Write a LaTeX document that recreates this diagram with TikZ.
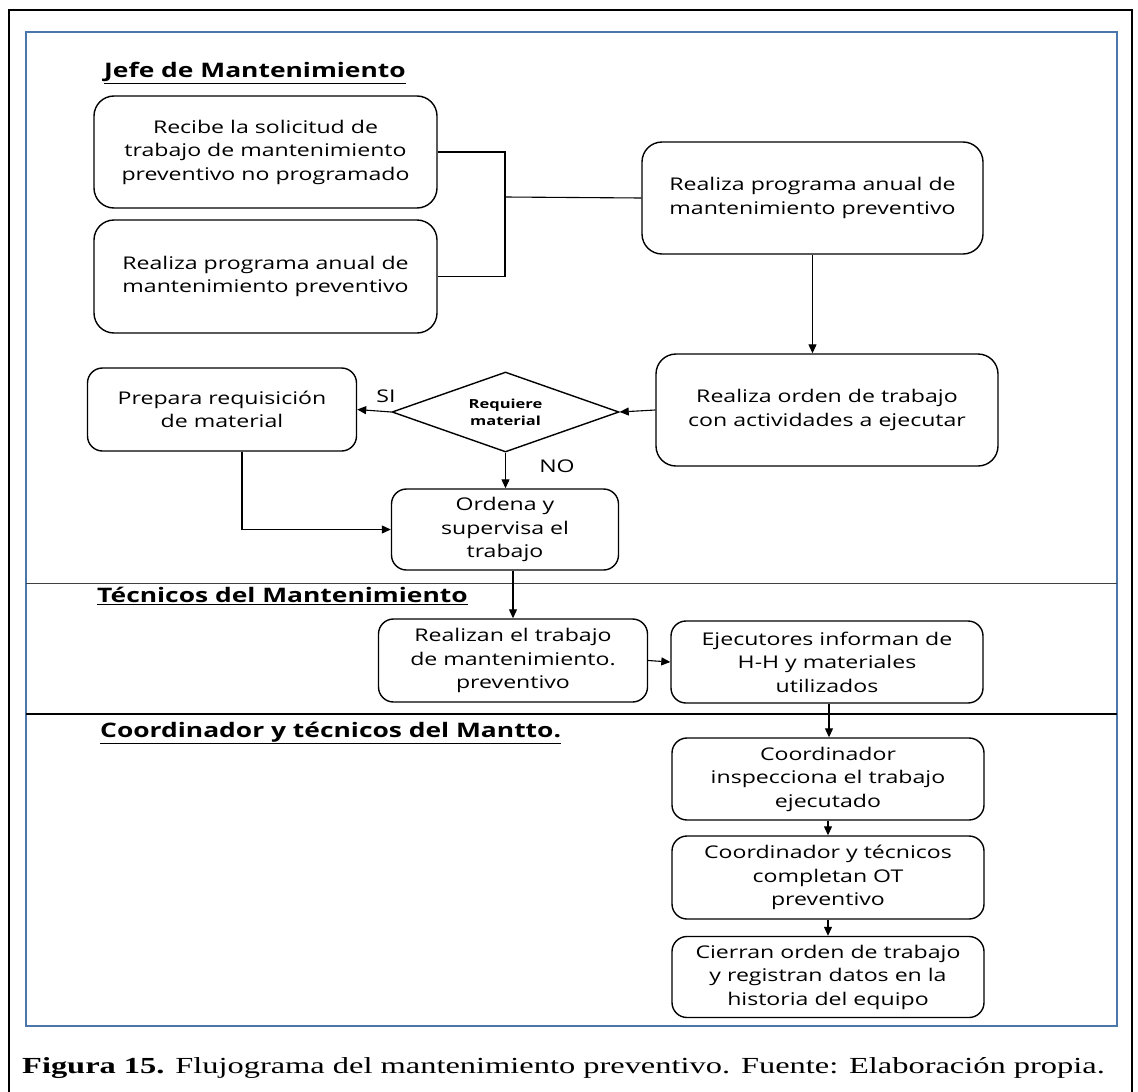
\documentclass[tikz,border=0pt]{standalone}
\usepackage{fontspec}
\setmainfont{Open Sans}[FakeStretch=1.32]
\newfontfamily\capfont{Liberation Serif}[FakeStretch=1.41]
\usetikzlibrary{shapes.geometric,arrows.meta}
\definecolor{frameblue}{RGB}{74,118,172}
\begin{document}
\begin{tikzpicture}[x=1pt,y=-1pt,
  proc/.style={draw, line width=1.4pt, rounded corners=20pt, align=center,
    inner sep=2pt, font=\fontsize{17.5}{23.5}\selectfont},
  small/.style={rounded corners=15pt},
  link/.style={line width=1.1pt},
  flow/.style={link, -{Triangle[length=9pt,width=8pt]}},
  lane/.style={font=\bfseries\fontsize{20}{26}\selectfont, anchor=west, inner sep=0pt},
  tag/.style={font=\fontsize{17.5}{20}\selectfont, inner sep=0pt}]
\useasboundingbox (0,0) rectangle (1138,1092);
% outer page frame and inner panel
\draw[line width=2.6pt] (9,1092) -- (9,10) -- (1132,10) -- (1132,1092);
\draw[frameblue, line width=1.8pt] (26,32) rectangle (1117,1026);
% swimlane separators
\draw[line width=0.9pt, black!75] (26,583) -- (1117,583);
\draw[line width=1.1pt] (26,714) -- (1117,714);
% lane titles
\node[lane] (t1) at (104,73) {\underline{Jefe de Mantenimiento}};
\node[lane] (t2) at (97,596) {\underline{Técnicos del Mantenimiento}};
\node[lane] (t3) at (100,733) {\underline{Coordinador y técnicos del Mantto.}};
% process boxes
\node[proc, minimum width=343pt, minimum height=112pt] (A) at (265.5,152)
  {Recibe la solicitud de\\trabajo de mantenimiento\\preventivo no programado};
\node[proc, minimum width=343pt, minimum height=113pt] (B) at (265.5,276.5)
  {Realiza programa anual de\\mantenimiento preventivo};
\node[proc, minimum width=341pt, minimum height=112pt] (C) at (812.5,198)
  {Realiza programa anual de\\mantenimiento preventivo};
\node[proc, minimum width=342pt, minimum height=112pt] (D) at (827,410)
  {Realiza orden de trabajo\\con actividades a ejecutar};
\node[proc, small, minimum width=269pt, minimum height=83pt] (E) at (222,409.5)
  {Prepara requisición\\de material};
\node[draw, line width=1.4pt, shape=diamond, aspect=2.84, minimum width=227pt, minimum height=80pt,
  inner sep=0pt, align=center, font=\bfseries\fontsize{12.5}{17}\selectfont] (Q) at (505.5,412)
  {Requiere\\material};
\node[proc, small, minimum width=227pt, minimum height=81pt] (F) at (505,529.5)
  {Ordena y\\supervisa el\\trabajo};
\node[proc, small, minimum width=269pt, minimum height=83pt] (G) at (513,660.5)
  {Realizan el trabajo\\de mantenimiento.\\preventivo};
\node[proc, small, minimum width=312pt, minimum height=82pt] (H) at (827,662)
  {Ejecutores informan de\\H-H y materiales\\utilizados};
\node[proc, small, minimum width=312pt, minimum height=82pt] (I) at (828,779)
  {Coordinador\\inspecciona el trabajo\\ejecutado};
\node[proc, small, minimum width=312pt, minimum height=83pt] (J) at (828,877.5)
  {Coordinador y técnicos\\completan OT\\preventivo};
\node[proc, small, minimum width=312pt, minimum height=81pt] (K) at (828,977)
  {Cierran orden de trabajo\\y registran datos en la\\historia del equipo};
% decision labels
\node[tag] (si) at (386,396) {SI};
\node[tag] (no) at (557,466) {NO};
% connectors
\coordinate (M) at (505,197);
\draw[link] (A.east) -- (A.east -| M) |- (B.east);
\draw[link] (M) -- (C.west);
\draw[flow] (C.south) -- (C.south |- D.north);
\draw[flow] (D.west) -- (Q.east);
\draw[flow] (Q.west) -- (E.east);
\draw[flow] (Q.south) -- (Q.south |- F.north);
\draw[flow] ([xshift=20pt]E.south) |- (F.west);
\draw[flow] (G.north |- F.south) -- (G.north);
\draw[flow] (G.east) -- (H.west);
\draw[flow] ([xshift=2pt]H.south) -- ([xshift=2pt]H.south |- I.north);
\draw[flow] (I.south) -- (J.north);
\draw[flow] (J.south) -- (K.north);
% caption
\node[anchor=west, inner sep=0pt, font=\capfont\fontsize{23}{26}\selectfont] (cap) at (22,1068)
  {\textbf{Figura 15.} Flujograma del mantenimiento preventivo. Fuente: Elaboración propia.};
\end{tikzpicture}
\end{document}
